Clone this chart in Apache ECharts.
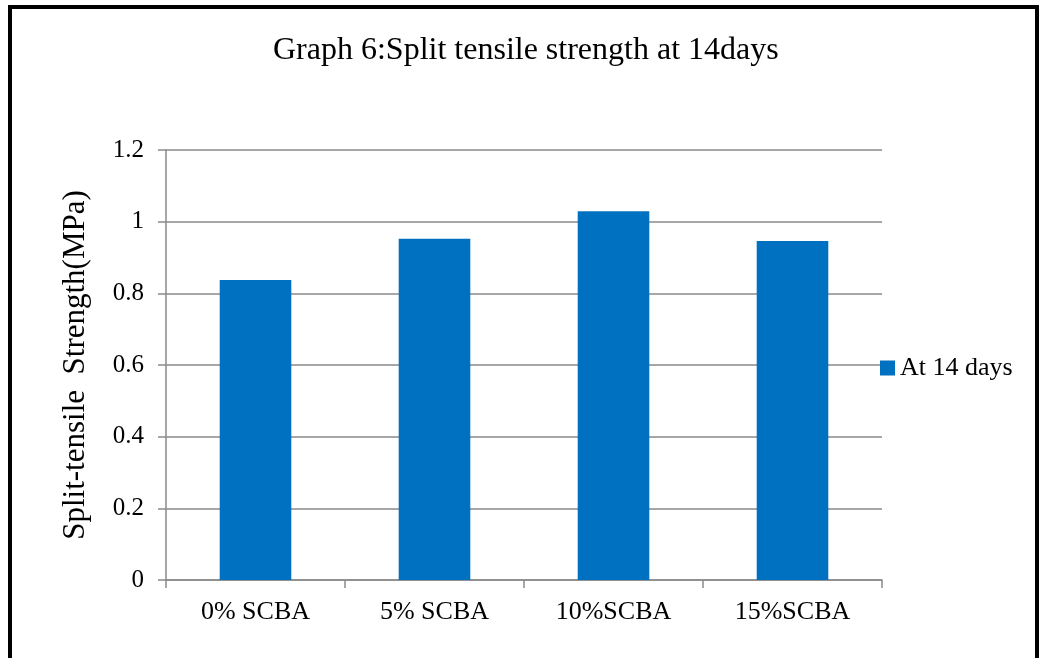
<!DOCTYPE html>
<html>
<head>
<meta charset="utf-8">
<script src="https://cdn.jsdelivr.net/npm/echarts@6/dist/echarts.min.js"></script>
<style>
  html, body { margin: 0; padding: 0; background: #fff; }
  #chart { width: 1041px; height: 658px; }
</style>
</head>
<body>
<div id="chart"></div>
<script>
// Split tensile strength of concrete with sugarcane bagasse ash (SCBA) at 14 days
const categories = ['0% SCBA', '5% SCBA', '10%SCBA', '15%SCBA'];
const strength14 = [0.837, 0.952, 1.029, 0.946];
const seriesName = 'At 14 days';
const yTicks = { min: 0, max: 1.2, interval: 0.2 };

const serif = '"Liberation Serif", "Times New Roman", serif';
const axisGray = '#8a8a8a';

const chart = echarts.init(document.getElementById('chart'));
chart.setOption({
  backgroundColor: '#ffffff',
  animation: false,
  title: {
    text: 'Graph 6:Split tensile strength at 14days',
    left: 268,
    top: 30,
    textStyle: { fontFamily: serif, fontSize: 32, fontWeight: 'normal', color: '#000' }
  },
  graphic: [{
    type: 'rect',
    shape: { x: 10, y: 7, width: 1027, height: 700 },
    style: { fill: 'none', stroke: '#000', lineWidth: 4 },
    silent: true
  }],
  legend: {
    data: [seriesName],
    orient: 'vertical',
    left: 875,
    top: 350,
    itemWidth: 15,
    itemHeight: 15,
    itemGap: 4,
    icon: 'rect',
    textStyle: { fontFamily: serif, fontSize: 26, color: '#000', padding: [0, 0, 0, 0] }
  },
  grid: { left: 166, right: 159, top: 150, bottom: 78 },
  xAxis: {
    type: 'category',
    data: categories,
    axisLine: { lineStyle: { color: axisGray, width: 1.5 } },
    axisTick: { show: true, length: 8, lineStyle: { color: axisGray, width: 1.5 } },
    axisLabel: { fontFamily: serif, fontSize: 26, color: '#000', margin: 19 }
  },
  yAxis: {
    type: 'value',
    min: yTicks.min,
    max: yTicks.max,
    interval: yTicks.interval,
    name: 'Split-tensile  Strength(MPa)',
    nameLocation: 'middle',
    nameGap: 75,
    nameTextStyle: { fontFamily: serif, fontSize: 31, color: '#000' },
    axisLine: { show: true, lineStyle: { color: axisGray, width: 1.5 } },
    axisTick: { show: true, length: 8, lineStyle: { color: axisGray, width: 1.5 } },
    axisLabel: { fontFamily: serif, fontSize: 25, color: '#000', margin: 22 },
    splitLine: { show: true, lineStyle: { color: axisGray, width: 1.5 } }
  },
  series: [{
    name: seriesName,
    type: 'bar',
    data: strength14,
    barWidth: '40%',
    itemStyle: { color: '#0070C0' }
  }]
});
</script>
</body>
</html>
